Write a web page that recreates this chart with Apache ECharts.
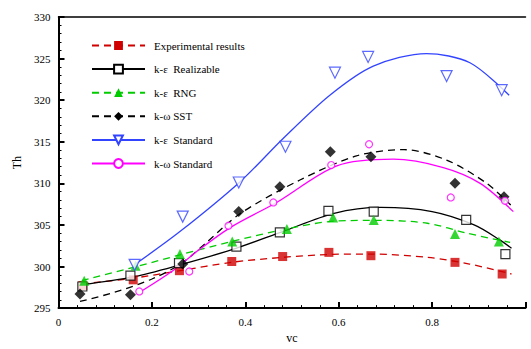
<!DOCTYPE html>
<html>
<head>
<meta charset="utf-8">
<script src="https://cdn.jsdelivr.net/npm/echarts@6/dist/echarts.min.js"></script>
<style>
  html, body { margin: 0; padding: 0; background: #fff; }
  #chart { width: 531px; height: 349px; }
</style>
</head>
<body>
<div id="chart"></div>
<script>
// measured points [vc, Th]
var expPts = [[0.052, 297.7], [0.160, 298.4], [0.259, 299.5], [0.371, 300.6], [0.480, 301.2], [0.579, 301.7], [0.669, 301.3], [0.849, 300.5], [0.950, 299.1]];
var realPts = [[0.051, 297.6], [0.154, 298.9], [0.258, 300.4], [0.381, 302.4], [0.474, 304.1], [0.578, 306.7], [0.675, 306.6], [0.873, 305.6], [0.957, 301.5]];
var rngPts = [[0.055, 298.3], [0.165, 300.1], [0.260, 301.5], [0.372, 303.0], [0.489, 304.5], [0.588, 305.9], [0.675, 305.6], [0.849, 303.9], [0.943, 303.0]];
var sstPts = [[0.046, 296.7], [0.154, 296.6], [0.266, 300.3], [0.386, 306.6], [0.474, 309.6], [0.582, 313.8], [0.669, 313.2], [0.849, 310.0], [0.954, 308.4]];
var kesPts = [[0.163, 300.2], [0.266, 306.0], [0.386, 310.1], [0.486, 314.4], [0.592, 323.3], [0.663, 325.2], [0.831, 322.9], [0.949, 321.2]];
var kwsPts = [[0.173, 297.0], [0.280, 299.4], [0.364, 304.9], [0.460, 307.7], [0.584, 312.2], [0.665, 314.7], [0.840, 308.3], [0.956, 307.9]];

// fitted curves
var expFit = [[0.05, 297.9], [0.16, 298.6], [0.26, 299.5], [0.37, 300.5], [0.48, 301.1], [0.58, 301.45], [0.67, 301.5], [0.79, 301.1], [0.88, 300.3], [0.97, 299.1]];
var realFit = [[0.05, 297.8], [0.16, 298.75], [0.26, 300.2], [0.37, 302.0], [0.48, 304.2], [0.59, 306.4], [0.69, 307.1], [0.80, 306.6], [0.89, 305.0], [0.945, 303.2], [0.97, 302.2]];
var rngFit = [[0.05, 298.3], [0.167, 300.0], [0.26, 301.4], [0.37, 303.0], [0.495, 304.6], [0.59, 305.45], [0.69, 305.55], [0.79, 305.2], [0.875, 304.0], [0.967, 302.9]];
var sstFit = [[0.046, 295.8], [0.12, 296.9], [0.2, 298.5], [0.264, 300.4], [0.317, 302.9], [0.39, 306.4], [0.517, 310.4], [0.638, 313.3], [0.74, 314.05], [0.831, 312.8], [0.917, 310.0], [0.97, 307.3]];
var kesFit = [[0.165, 300.3], [0.26, 304.2], [0.389, 310.2], [0.481, 315.4], [0.581, 320.6], [0.674, 324.1], [0.788, 325.6], [0.881, 324.5], [0.965, 320.6]];
var kwsFit = [[0.178, 297.05], [0.24, 299.3], [0.303, 302.1], [0.371, 304.8], [0.467, 307.7], [0.596, 312.1], [0.717, 312.9], [0.824, 311.9], [0.903, 310.0], [0.974, 306.6]];

var names = ['Experimental results', 'k-\u03b5  Realizable', 'k-\u03b5  RNG', 'k-\u03c9 SST', 'k-\u03b5  Standard', 'k-\u03c9 Standard'];

var red = '#d00000', green = '#00cc00', blue = '#3344ff', pink = '#ff00ff', black = '#000';
var font = '"Liberation Serif", "Times New Roman", serif';

var chart = echarts.init(document.getElementById('chart'), null, { renderer: 'svg' });

function curve(name, data, color, dashed, symbol, itemStyle, rotate) {
  return {
    name: name, type: 'line', data: data, smooth: 0.3, showSymbol: false,
    symbol: symbol, symbolRotate: rotate || 0,
    lineStyle: { color: color, width: 1.3, type: dashed ? [7, 5] : 'solid' },
    itemStyle: itemStyle, z: 2, silent: true
  };
}
function marks(name, data, symbol, size, itemStyle, rotate) {
  return {
    name: name, type: 'scatter', data: data, symbol: symbol, symbolSize: size,
    symbolRotate: rotate || 0, itemStyle: itemStyle, z: 3
  };
}

var stExp = { color: red };
var stReal = { color: '#fff', borderColor: black, borderWidth: 1.2 };
var stRng = { color: green };
var stSst = { color: black };
var stKes = { color: '#fff', borderColor: blue, borderWidth: 1.2 };
var stKws = { color: '#fff', borderColor: pink, borderWidth: 1.2 };

chart.setOption({
  animation: false,
  textStyle: { fontFamily: font },
  grid: { left: 58.5, right: 5.5, top: 17, bottom: 29.5 },
  legend: {
    orient: 'vertical', left: 86, top: 35, itemWidth: 53, itemHeight: 11, itemGap: 12.6,
    data: names,
    textStyle: { fontFamily: font, fontSize: 11, color: '#000', padding: [0, 0, 0, 4] }
  },
  xAxis: [{
    type: 'value', min: 0, max: 1, interval: 0.2,
    name: 'vc', nameLocation: 'middle', nameGap: 21,
    nameTextStyle: { fontFamily: font, fontSize: 12, color: '#000' },
    axisLine: { onZero: false, lineStyle: { color: '#000', width: 2 } },
    axisTick: { inside: true, length: 6, lineStyle: { color: '#000', width: 2 } },
    minorTick: { show: true, splitNumber: 5, length: 3, lineStyle: { color: '#000', width: 1 } },
    axisLabel: { color: '#000', fontSize: 11, margin: 8, fontFamily: font,
      formatter: function (v) { return v >= 1 ? '' : String(v); } },
    splitLine: { show: false }
  }, {
    type: 'value', min: 0, max: 1, position: 'top',
    axisLine: { lineStyle: { color: '#000', width: 1.5 } },
    axisTick: { show: false }, axisLabel: { show: false }, splitLine: { show: false }
  }],
  yAxis: {
    type: 'value', min: 295, max: 330, interval: 5,
    name: 'Th', nameLocation: 'middle', nameGap: 36,
    nameTextStyle: { fontFamily: font, fontSize: 12, color: '#000' },
    axisLine: { show: true, onZero: false, lineStyle: { color: '#000', width: 2 } },
    axisTick: { show: true, inside: true, length: 6, lineStyle: { color: '#000', width: 2 } },
    minorTick: { show: true, splitNumber: 5, length: 3, lineStyle: { color: '#000', width: 1 } },
    axisLabel: { color: '#000', fontSize: 11, margin: 8, fontFamily: font },
    splitLine: { show: false }
  },
  series: [
    curve(names[0], expFit, red, true, 'rect', stExp),
    curve(names[1], realFit, black, false, 'rect', stReal),
    curve(names[2], rngFit, green, true, 'triangle', stRng),
    curve(names[3], sstFit, black, true, 'diamond', stSst),
    curve(names[4], kesFit, blue, false, 'triangle', stKes, 180),
    curve(names[5], kwsFit, pink, false, 'circle', stKws),
    marks(names[0], expPts, 'rect', 9, stExp),
    marks(names[1], realPts, 'rect', 9, stReal),
    marks(names[2], rngPts, 'triangle', 10, stRng),
    marks(names[3], sstPts, 'diamond', 11, stSst),
    marks(names[4], kesPts, 'triangle', 11, stKes, 180),
    marks(names[5], kwsPts, 'circle', 7, stKws)
  ]
});
</script>
</body>
</html>
